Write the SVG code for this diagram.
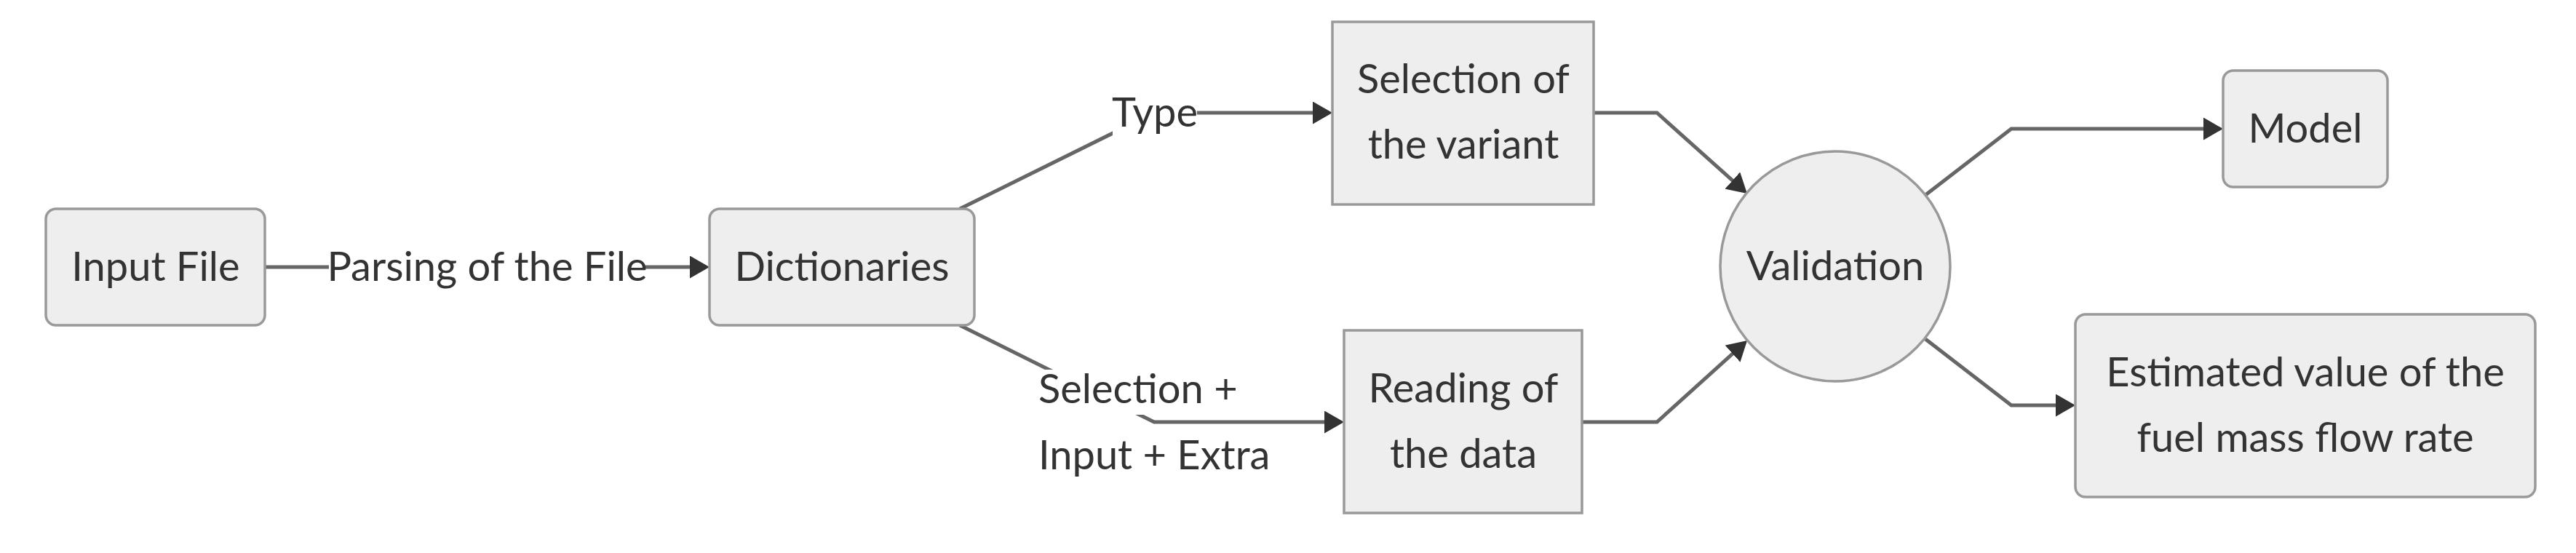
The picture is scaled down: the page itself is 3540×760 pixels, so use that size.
<svg xmlns="http://www.w3.org/2000/svg" width="3540" height="760" viewBox="0 0 3540 760">
<style>
.node rect, .node circle { fill: #eeeeee; stroke: #999999; stroke-width: 3.5; }
text { font-family: Lato, "Liberation Sans", sans-serif; font-size: 56px; fill: #333333; }
.c { text-anchor: middle; dominant-baseline: central; }
.edge { fill: none; stroke: #666666; stroke-width: 5; }
.lbg { fill: #ffffff; }
</style>
<defs>
<marker id="arrow" markerUnits="userSpaceOnUse" markerWidth="27" markerHeight="31" refX="19" refY="15.5" orient="auto">
<path d="M0,0 L27,15.5 L0,31 z" fill="#333333"/>
</marker>
</defs>
<rect width="3540" height="760" fill="#ffffff"/>
<g id="connectors">
<path class="edge" d="M364,367 L967,367" marker-end="url(#arrow)"/>
<path class="edge" d="M1319,287 L1586,155 L1823,155" marker-end="url(#arrow)"/>
<path class="edge" d="M1319,447 L1586,580 L1839,580" marker-end="url(#arrow)"/>
<path class="edge" d="M2190,155 L2277,155 L2395,260.7" marker-end="url(#arrow)"/>
<path class="edge" d="M2174,580 L2277,580 L2395.1,473.4" marker-end="url(#arrow)"/>
<path class="edge" d="M2646,268 L2764,177 L3047,177" marker-end="url(#arrow)"/>
<path class="edge" d="M2646,466 L2764,557 L2844,557" marker-end="url(#arrow)"/>
<g id="label-parsing">
<rect class="lbg" x="452" y="334" width="435" height="66"/>
<text class="c" x="669.5" y="364">Parsing of the File</text>
</g>
<g id="label-type">
<rect class="lbg" x="1529" y="122" width="116" height="66"/>
<text class="c" x="1587" y="152">Type</text>
</g>
<g id="label-selection">
<rect class="lbg" x="1427" y="508" width="272" height="62"/>
<rect class="lbg" x="1427" y="595" width="318" height="63"/>
<text x="1427" y="532" dominant-baseline="central">Selection +</text>
<text x="1427" y="623" dominant-baseline="central">Input + Extra</text>
</g>
</g>
<g id="node-input" class="node">
<rect x="63" y="287" width="301" height="160" rx="14"/>
<text class="c" x="214" y="364">Input File</text>
</g>
<g id="node-dictionaries" class="node">
<rect x="975" y="287" width="364" height="160" rx="14"/>
<text class="c" x="1157" y="364">Dictionaries</text>
</g>
<g id="node-selection" class="node">
<rect x="1831" y="30" width="359" height="251"/>
<text class="c" x="2011" y="106">Selection of</text>
<text class="c" x="2011" y="196">the variant</text>
</g>
<g id="node-reading" class="node">
<rect x="1847" y="454" width="327" height="251"/>
<text class="c" x="2011" y="531">Reading of</text>
<text class="c" x="2011" y="621">the data</text>
</g>
<g id="node-validation" class="node">
<circle cx="2522" cy="366" r="158"/>
<text class="c" x="2522" y="363">Validation</text>
</g>
<g id="node-model" class="node">
<rect x="3055" y="97" width="226" height="160" rx="14"/>
<text class="c" x="3168" y="174">Model</text>
</g>
<g id="node-estimated" class="node">
<rect x="2852" y="432" width="632" height="251" rx="14"/>
<text class="c" x="3168" y="509">Estimated value of the</text>
<text class="c" x="3168" y="599">fuel mass flow rate</text>
</g>
</svg>
